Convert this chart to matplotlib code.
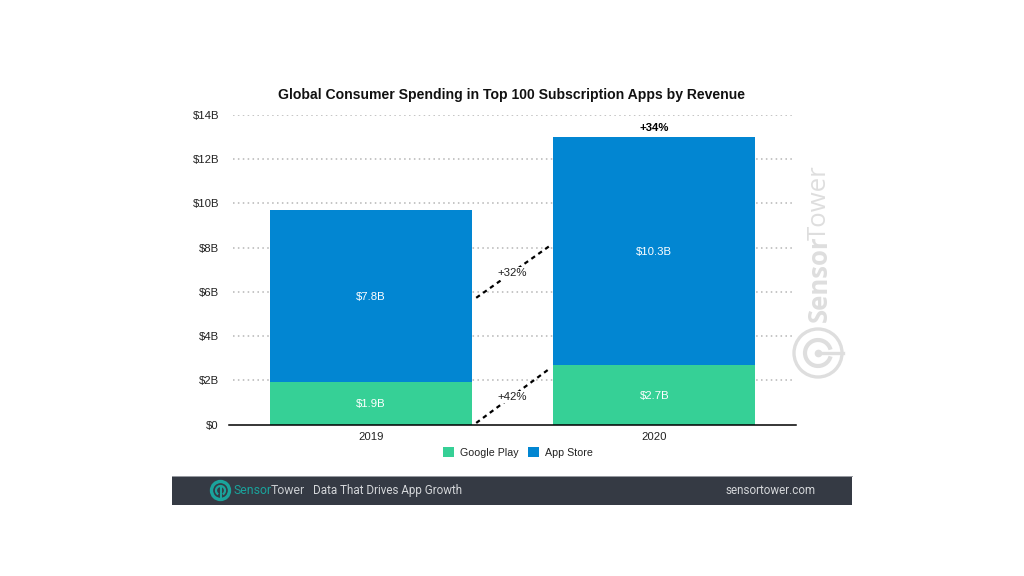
import matplotlib
matplotlib.use("Agg")
import matplotlib.pyplot as plt
from matplotlib.patches import Circle, Arc, Rectangle

plt.rcParams['font.family'] = ['Liberation Sans', 'DejaVu Sans']

years = ['2019', '2020']
google_play = [1.9, 2.7]
app_store = [7.8, 10.3]
google_labels = ['$1.9B', '$2.7B']
app_labels = ['$7.8B', '$10.3B']
total_growth = '+34%'
y_ticks = [0, 2, 4, 6, 8, 10, 12, 14]
y_labels = ['\\$0', '\\$2B', '\\$4B', '\\$6B', '\\$8B', '\\$10B', '\\$12B', '\\$14B']
# dashed connectors between the bars, start and end in $B
growth_labels = ['+42%', '+32%']
growth_start = [0.07, 5.73]
growth_end = [2.5, 8.05]

GREEN = '#36d096'
BLUE = '#0286d2'
W, H = 1024, 576

fig = plt.figure(figsize=(W / 100, H / 100), dpi=100)
ax = fig.add_axes([229 / W, (H - 424.5) / H, 567 / W, 309.5 / H])
ax.set_xlim(-0.5, 1.5)
ax.set_ylim(0, 14)

x = range(len(years))
ax.hlines(y_ticks[1:], -0.487, 1.487, color='#b5b5b5', lw=1.1, linestyles=(0, (1, 2.2)), zorder=1)
b1 = ax.bar(x, google_play, width=0.714, color=GREEN, label='Google Play', zorder=2)
b2 = ax.bar(x, app_store, width=0.714, bottom=google_play, color=BLUE, label='App Store', zorder=2)

for i in x:
    ax.text(i, google_play[i] / 2, google_labels[i].replace('$', '\\$'), color='white',
            ha='center', va='center_baseline', fontsize=8.2, zorder=3)
    ax.text(i, google_play[i] + app_store[i] / 2, app_labels[i].replace('$', '\\$'), color='white',
            ha='center', va='center_baseline', fontsize=8.2, zorder=3)

# growth on top of 2020
ax.text(1, google_play[1] + app_store[1] + 0.2, total_growth, fontsize=8.2, fontweight='bold',
        ha='center', va='bottom', color='black', zorder=3)

for lab, s, e in zip(growth_labels, growth_start, growth_end):
    ax.plot([0.372, 0.628], [s, e], color='black', lw=1.6, linestyle=(0, (2, 1.8)), zorder=3)
    ax.text(0.5, (s + e) / 2, lab, fontsize=8.2, ha='center', va='center_baseline', color='#222222', zorder=4,
            bbox=dict(fc='white', ec='none', pad=1))

for s in ['top', 'left', 'right']:
    ax.spines[s].set_visible(False)
ax.spines['bottom'].set_color('black')
ax.spines['bottom'].set_linewidth(1.1)
ax.set_xticks(list(x))
ax.set_xticklabels(years, fontsize=8.2, color='#222222')
ax.set_yticks(y_ticks)
ax.set_yticklabels(y_labels, fontsize=8.2, color='#222222')
ax.tick_params(length=0, axis='both')
ax.tick_params(axis='y', pad=7.3)
ax.tick_params(axis='x', pad=5.5)

fig.text(511.5 / W, (H - 95) / H, 'Global Consumer Spending in Top 100 Subscription Apps by Revenue',
         fontsize=10.1, fontweight='bold', ha='center', va='center', color='#111111')

ax.legend(handles=[b1, b2], loc='center', bbox_to_anchor=(518 / W, (H - 452.5) / H),
          bbox_transform=fig.transFigure, ncol=2, frameon=False, fontsize=7.7,
          handlelength=1.03, handleheight=1.03, handletextpad=0.56, columnspacing=0.84,
          labelcolor='#222222')

# overlay in pixel coordinates for footer and watermark
ov = fig.add_axes([0, 0, 1, 1], zorder=5)
ov.set_xlim(0, W)
ov.set_ylim(H, 0)
ov.axis('off')
ov.patch.set_alpha(0)

# watermark
WM = '#dedede'
ov.text(819, 322, 'Sensor', rotation=90, fontsize=18.5, fontweight='bold', family='Open Sans',
        color=WM, ha='center', va='bottom')
ov.text(819, 240, 'Tower', rotation=90, fontsize=18.5, family='Open Sans',
        color=WM, ha='center', va='bottom')
ov.add_patch(Circle((818, 353), 24, fill=False, ec=WM, lw=2.4))
ov.add_patch(Arc((818, 353), 26, 26, theta1=15, theta2=345, ec=WM, lw=3))
ov.plot([818, 843], [353, 353], color=WM, lw=2.4)
ov.plot([818], [353], marker='o', ms=4.5, color=WM)

# footer
ov.add_patch(Rectangle((172, 475.5), 680, 29.5, fc='#353a44', ec='none'))
ov.plot([172, 852], [475.5, 475.5], color='#9a9da3', lw=0.7)
TEAL = '#1aa39c'
ov.add_patch(Circle((220.5, 490.5), 9, fill=False, ec=TEAL, lw=2.4))
ov.add_patch(Arc((220.5, 490.5), 9, 9, theta1=120, theta2=60, ec=TEAL, lw=1.6))
ov.plot([220.5, 220.5], [488, 499], color=TEAL, lw=1.5)
ov.text(233, 490.5, 'Sensor', fontsize=8.8, family='Roboto', color=TEAL, ha='left', va='center')
ov.text(271, 490.5, 'Tower', fontsize=8.8, family='Roboto', color='#c9ccd0', ha='left', va='center')
ov.text(313, 490.5, 'Data That Drives App Growth', fontsize=8.35, family='Roboto', color='#d5d7da',
        ha='left', va='center')
ov.text(816, 490.5, 'sensortower.com', fontsize=8.35, family='Roboto', color='#d5d7da',
        ha='right', va='center')

fig.savefig('out.png', dpi=100)
